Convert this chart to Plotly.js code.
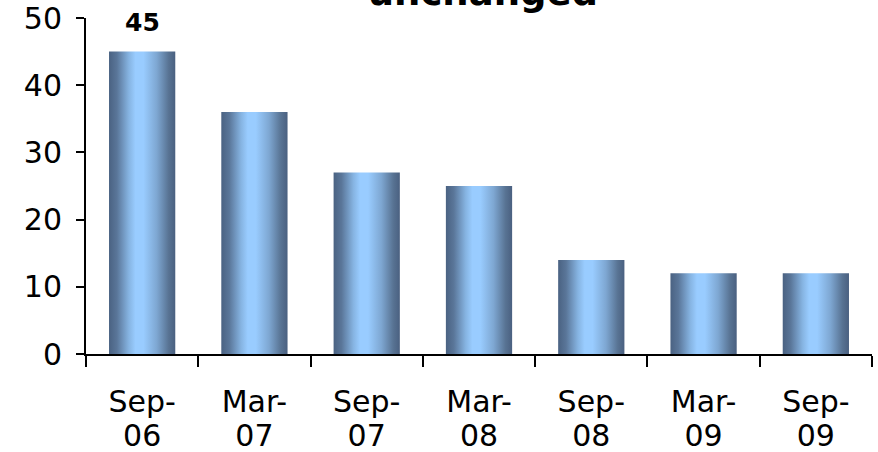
<!DOCTYPE html>
<html>
<head>
<meta charset="utf-8">
<script src="https://cdn.plot.ly/plotly-3.0.1.min.js"></script>
<style>
  html, body { margin: 0; padding: 0; background: #fff; }
  #chart { width: 878px; height: 452px; }
</style>
</head>
<body>
<div id="chart"></div>
<script>
const categories = ["Sep-06", "Mar-07", "Sep-07", "Mar-08", "Sep-08", "Mar-09", "Sep-09"];
const monthLabels = ["Sep-", "Mar-", "Sep-", "Mar-", "Sep-", "Mar-", "Sep-"];
const yearLabels = ["06", "07", "07", "08", "08", "09", "09"];
const values = [45, 36, 27, 25, 14, 12, 12];
const labelShown = [true, false, false, false, false, false, false];
const yTickValues = [0, 10, 20, 30, 40, 50];
const titleText = "unchanged";

const barTrace = {
  type: "bar",
  x: categories,
  y: values,
  marker: { color: "#7fa6d0", line: { width: 0 } },
  hoverinfo: "none"
};

// invisible companion trace so the second (year) label row exists
const yearRowTrace = {
  type: "scatter",
  mode: "none",
  x: categories,
  y: values,
  xaxis: "x2",
  hoverinfo: "none",
  showlegend: false
};

const annotations = categories
  .map((c, i) => labelShown[i] ? {
    x: c, y: values[i], xref: "x", yref: "y",
    text: "<b>" + values[i] + "</b>",
    showarrow: false, yanchor: "bottom", yshift: 13,
    font: { family: "DejaVu Sans", size: 25, color: "#000" }
  } : null)
  .filter(a => a);

const tickFont = { family: "DejaVu Sans", size: 30, color: "#000" };

const layout = {
  width: 878,
  height: 452,
  margin: { l: 86, r: 6, t: 18, b: 98 },
  paper_bgcolor: "#fff",
  plot_bgcolor: "#fff",
  showlegend: false,
  bargap: 0.41,
  font: { family: "DejaVu Sans", color: "#000" },
  annotations: annotations,
  title: {
    text: "<b>" + titleText + "</b>",
    font: { family: "DejaVu Sans", size: 37, color: "#000" },
    x: 0.55, xanchor: "center",
    y: 1.0, yanchor: "bottom", yref: "container",
    pad: { b: -5 }
  },
  xaxis: {
    type: "category",
    range: [-0.5, 6.5],
    showgrid: false,
    zeroline: false,
    showline: true,
    linecolor: "#000",
    linewidth: 2,
    ticks: "outside",
    tickson: "boundaries",
    ticklen: 11,
    tickwidth: 2,
    tickcolor: "#000",
    tickmode: "array",
    tickvals: categories,
    ticktext: monthLabels,
    tickfont: tickFont,
    ticklabelstandoff: 20
  },
  xaxis2: {
    type: "category",
    overlaying: "x",
    anchor: "y",
    side: "bottom",
    range: [-0.5, 6.5],
    showgrid: false,
    zeroline: false,
    showline: false,
    ticks: "",
    tickmode: "array",
    tickvals: categories,
    ticktext: yearLabels,
    tickfont: tickFont,
    ticklabelstandoff: 61
  },
  yaxis: {
    range: [0, 50],
    tickvals: yTickValues,
    showgrid: false,
    zeroline: false,
    showline: true,
    linecolor: "#000",
    linewidth: 2,
    ticks: "outside",
    ticklen: 8,
    tickwidth: 2,
    tickcolor: "#000",
    tickfont: tickFont,
    ticklabelstandoff: 8
  }
};

function applyGradient() {
  const gd = document.getElementById("chart");
  const svg = gd.querySelector("svg.main-svg");
  if (!svg) return;
  const ns = "http://www.w3.org/2000/svg";
  let defs = svg.querySelector("defs");
  if (!defs) { defs = document.createElementNS(ns, "defs"); svg.insertBefore(defs, svg.firstChild); }
  if (!svg.querySelector("#barGrad")) {
    const g = document.createElementNS(ns, "linearGradient");
    g.setAttribute("id", "barGrad");
    g.setAttribute("x1", "0"); g.setAttribute("y1", "0");
    g.setAttribute("x2", "1"); g.setAttribute("y2", "0");
    const stops = [
      [0, "#4a6282"], [0.12, "#5a7699"], [0.3, "#86b4e2"], [0.4, "#99ccff"],
      [0.52, "#99ccff"], [0.72, "#7ea7d2"], [0.9, "#587393"], [1, "#4a6080"]
    ];
    stops.forEach(([o, c]) => {
      const s = document.createElementNS(ns, "stop");
      s.setAttribute("offset", o);
      s.setAttribute("stop-color", c);
      g.appendChild(s);
    });
    defs.appendChild(g);
  }
  gd.querySelectorAll(".bars .point path").forEach(p => { p.style.fill = "url(#barGrad)"; });
}

Plotly.newPlot("chart", [barTrace, yearRowTrace], layout, { staticPlot: true, displayModeBar: false }).then(applyGradient);
</script>
</body>
</html>
